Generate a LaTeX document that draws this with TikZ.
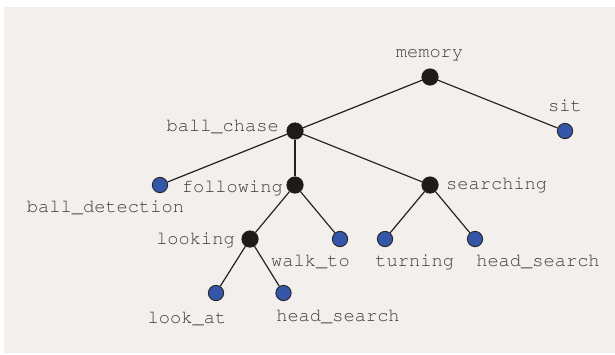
\documentclass[tikz,border=0pt]{standalone}
\usepackage[T1]{fontenc}
\usepackage{courier}
\definecolor{paper}{HTML}{F3EFEC}
\definecolor{inner}{HTML}{1E1B1B}
\definecolor{leafblue}{HTML}{3556A8}
\definecolor{edgecol}{HTML}{222222}
\definecolor{txt}{HTML}{3A3A3A}
\begin{document}
\begin{tikzpicture}[x=1pt,y=-1pt,
  innernode/.style={circle,minimum size=16.5pt,inner sep=0pt,fill=inner,draw=inner,line width=0.6pt},
  leafnode/.style={circle,minimum size=15.3pt,inner sep=0pt,fill=leafblue,draw=black!85,line width=0.9pt},
  edge/.style={draw=edgecol,line width=1.2pt},
  lbl/.style={font=\ttfamily\fontsize{18.7}{18.7}\selectfont,text=txt,inner sep=0pt}]
  % canvas
  \useasboundingbox (0,0) rectangle (615,354);
  \fill[white] (0,0) rectangle (615,354);
  \fill[paper] (4,7) rectangle (615,353);

  % tree nodes
  \node[innernode] (memory) at (430,77) {};
  \node[leafnode]  (sit) at (565,131) {};
  \node[innernode] (ballchase) at (295,131) {};
  \node[leafnode]  (balldet) at (160,185) {};
  \node[innernode] (following) at (295,185) {};
  \node[innernode] (searching) at (430,185) {};
  \node[innernode] (looking) at (250,239) {};
  \node[leafnode]  (walkto) at (340,239) {};
  \node[leafnode]  (turning) at (385,239) {};
  \node[leafnode]  (headsearchA) at (475,239) {};
  \node[leafnode]  (lookat) at (216,293) {};
  \node[leafnode]  (headsearchB) at (283.5,293) {};

  % connectors
  \path[edge] (memory) -- (ballchase);
  \path[edge] (memory) -- (sit);
  \path[edge] (ballchase) -- (balldet);
  \path[edge] (ballchase) -- (following);
  \path[edge] (ballchase) -- (searching);
  \path[edge] (following) -- (looking);
  \path[edge] (following) -- (walkto);
  \path[edge] (searching) -- (turning);
  \path[edge] (searching) -- (headsearchA);
  \path[edge] (looking) -- (lookat);
  \path[edge] (looking) -- (headsearchB);

  % labels
  \node[lbl,anchor=base] (tmemory) at (429.5,57) {memory};
  \node[lbl,anchor=base] (tsit) at (565,111) {sit};
  \node[lbl,anchor=base east] (tballchase) at (279,131) {ball\_chase};
  \node[lbl,anchor=base] (tballdet) at (105.5,212) {ball\_detection};
  \node[lbl,anchor=base east] (tfollowing) at (283,192) {following};
  \node[lbl,anchor=base west] (tsearching) at (446,189) {searching};
  \node[lbl,anchor=base east] (tlooking) at (235,244) {looking};
  \node[lbl,anchor=base] (twalkto) at (310.5,266) {walk\_to};
  \node[lbl,anchor=base] (tturning) at (414.7,266) {turning};
  \node[lbl,anchor=base] (theadsearchA) at (538,266) {head\_search};
  \node[lbl,anchor=base] (tlookat) at (187,323) {look\_at};
  \node[lbl,anchor=base] (theadsearchB) at (338,321) {head\_search};
\end{tikzpicture}
\end{document}
